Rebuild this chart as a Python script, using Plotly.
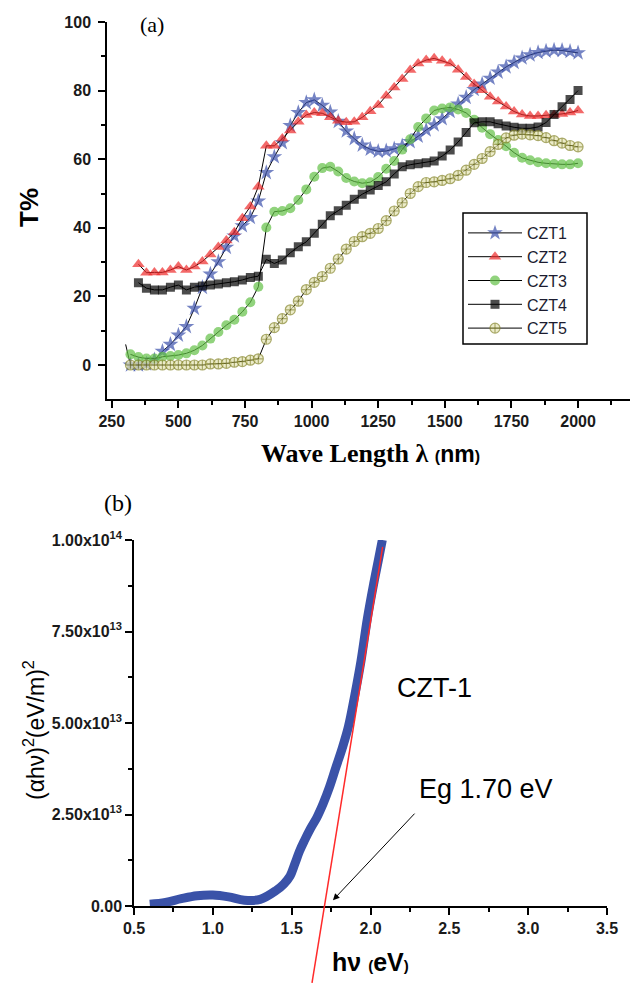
import plotly.graph_objects as go

W, H = 630, 984

# ---------------- Panel (a) data: transmittance vs wavelength ----------------
wl = [320, 350, 380, 410, 440, 470, 500, 530, 560, 590, 620, 650, 680, 710, 740, 770, 800,
      830, 860, 890, 920, 950, 980, 1010, 1040, 1070, 1100, 1130, 1160, 1190, 1220, 1250,
      1280, 1310, 1340, 1370, 1400, 1430, 1460, 1490, 1520, 1550, 1580, 1610, 1640, 1670,
      1700, 1730, 1760, 1790, 1820, 1850, 1880, 1910, 1940, 1970, 2000]

czt1_wl = [302] + wl
czt1 = [6.0, 0.0, 0.0, 0.3, 1.5, 4.0, 6.0, 8.7, 11.2, 16.5, 22.6, 26.5, 30.1, 34.3, 37.6, 40.6,
        43.0, 47.8, 56.1, 60.7, 64.8, 69.8, 73.6, 76.5, 77.3, 75.7, 73.7, 71.0, 68.2, 66.0,
        64.1, 62.9, 62.3, 62.4, 63.0, 63.9, 65.1, 66.7, 68.5, 70.0, 71.8, 73.9, 76.1, 78.0,
        80.3, 81.9, 83.6, 85.4, 86.9, 88.2, 89.5, 90.4, 91.1, 91.5, 91.8, 91.7, 91.4, 91.0]

czt2_wl = wl[1:]
czt2 = [29.4, 26.9, 27.0, 27.0, 27.7, 28.7, 27.7, 28.7, 30.2, 32.2, 34.4, 36.3, 38.7, 42.8,
        46.2, 52.0, 63.9, 63.9, 66.0, 68.4, 70.9, 72.9, 73.6, 73.4, 72.2, 71.2, 70.8, 70.9,
        72.2, 74.0, 75.8, 78.5, 80.9, 83.4, 86.0, 87.9, 88.9, 89.4, 88.7, 87.9, 86.1, 84.0,
        81.9, 80.1, 78.2, 76.8, 75.4, 73.9, 73.0, 72.6, 72.6, 72.8, 72.9, 73.2, 73.6, 74.2]

czt3_wl = wl
czt3 = [3.1, 2.3, 1.9, 1.9, 2.4, 2.6, 2.9, 3.4, 4.3, 5.7, 7.7, 9.6, 11.6, 13.2, 15.5, 18.3,
        22.8, 40.1, 44.7, 44.9, 45.7, 48.1, 51.2, 54.9, 57.4, 57.8, 56.4, 54.5, 53.5, 53.0,
        53.3, 54.8, 57.2, 59.5, 62.8, 65.8, 69.4, 71.9, 74.2, 74.8, 75.1, 74.5, 73.5, 71.5,
        69.2, 67.3, 65.6, 63.8, 61.9, 60.4, 59.7, 59.1, 58.8, 58.6, 58.5, 58.5, 58.8]

czt4_wl = wl[1:]
czt4 = [24.0, 22.4, 21.9, 21.9, 22.7, 23.3, 21.9, 22.7, 23.0, 23.3, 23.6, 24.0, 24.3, 24.8,
        25.5, 25.9, 30.8, 29.6, 30.6, 32.7, 34.5, 35.9, 38.4, 41.0, 43.5, 45.0, 46.6, 48.3,
        49.8, 51.0, 52.3, 53.4, 55.7, 57.8, 58.4, 58.7, 59.0, 59.5, 60.9, 62.7, 65.0, 67.8,
        70.6, 70.9, 70.9, 70.3, 69.7, 69.3, 69.0, 69.0, 69.4, 70.7, 73.0, 75.3, 77.4, 80.0]

czt5_wl = wl
czt5 = [0.0, 0.0, 0.0, 0.0, 0.0, 0.0, 0.0, 0.0, 0.0, 0.0, 0.3, 0.3, 0.5, 0.8, 1.0, 1.4, 1.8,
        7.5, 10.9, 13.5, 16.1, 18.6, 22.0, 24.1, 25.8, 28.2, 30.9, 33.8, 36.0, 37.4, 38.4,
        39.8, 42.1, 44.9, 47.3, 50.0, 52.0, 53.2, 53.4, 53.8, 54.3, 55.3, 56.8, 58.5, 60.2,
        62.2, 64.3, 66.2, 67.0, 67.3, 67.1, 66.9, 66.3, 65.4, 64.7, 64.0, 63.6]

a_xticks = [250, 500, 750, 1000, 1250, 1500, 1750, 2000]
a_yticks = [0, 20, 40, 60, 80, 100]

# ---------------- Panel (b) data: Tauc plot ----------------
hv = [0.60, 0.70, 0.80, 0.90, 1.00, 1.10, 1.20, 1.30, 1.40, 1.45, 1.49, 1.52, 1.55, 1.58,
      1.62, 1.66, 1.70, 1.74, 1.78, 1.82, 1.86, 1.90, 1.94, 1.98, 2.02, 2.05, 2.075]
ahv2 = [0.05e13, 0.10e13, 0.20e13, 0.28e13, 0.30e13, 0.25e13, 0.16e13, 0.18e13, 0.42e13,
        0.60e13, 0.82e13, 1.15e13, 1.50e13, 1.78e13, 2.12e13, 2.42e13, 2.80e13, 3.25e13,
        3.78e13, 4.30e13, 4.90e13, 5.75e13, 6.70e13, 7.85e13, 8.80e13, 9.45e13, 10.0e13]
fit_hv = [1.629, 2.077]
fit_y = [-2.10e13, 9.81e13]
eg_point = (1.762, 0.16e13)

b_xticks = [0.5, 1.0, 1.5, 2.0, 2.5, 3.0, 3.5]
b_yticks = [0, 2.5e13, 5.0e13, 7.5e13, 1.0e14]
b_yticktext = ["0.00", "2.50x10<sup>13</sup>", "5.00x10<sup>13</sup>",
               "7.50x10<sup>13</sup>", "1.00x10<sup>14</sup>"]

# ---------------- figure ----------------
fig = go.Figure()

def px_x(p):
    return p / W

def px_y(p):
    return 1 - p / H

series = [
    ("CZT1", czt1_wl, czt1, "star", "#3a50ab", 12, "#3a50ab", 0),
    ("CZT2", czt2_wl, czt2, "triangle-up", "#ee2a2a", 11, "#ee2a2a", 0),
    ("CZT3", czt3_wl, czt3, "circle", "#62c046", 10, "#62c046", 0),
    ("CZT4", czt4_wl, czt4, "square", "#000000", 9, "#000000", 0),
    ("CZT5", czt5_wl, czt5, "circle-cross", "#e4e4b4", 10, "#86862a", 1.2),
]
for name, xs, ys, sym, col, size, lcol, lw in series:
    sizes = [size] * len(xs)
    if name == "CZT1":
        sizes[0] = 0
    fig.add_trace(go.Scatter(
        x=xs, y=ys, name=name, mode="lines+markers",
        line=dict(color="black", width=1),
        marker=dict(symbol=sym, color=col, size=sizes,
                    line=dict(color=lcol, width=lw)),
        xaxis="x", yaxis="y", showlegend=True))

fig.add_trace(go.Scatter(
    x=hv, y=ahv2, mode="lines", line=dict(color="#3a52a8", width=9, shape="spline"),
    xaxis="x2", yaxis="y2", showlegend=False))
fig.add_trace(go.Scatter(
    x=fit_hv, y=fit_y, mode="lines", line=dict(color="#ff2a2a", width=1.5),
    xaxis="x3", yaxis="y3", showlegend=False))

tickfont = dict(family="Arial, Liberation Sans", size=16, color="#1a1a1a")
axis_common = dict(showline=True, linecolor="black", linewidth=1.5, ticks="outside",
                   ticklen=7, tickwidth=1.5, tickcolor="black", showgrid=False,
                   zeroline=False, tickfont=tickfont, automargin=False)

a_x0, a_x1 = 107, 630
b_x0, b_x1 = 134, 607

fig.update_layout(
    template="none",
    width=W, height=H, margin=dict(l=0, r=0, t=0, b=0, pad=0),
    paper_bgcolor="white", plot_bgcolor="rgba(0,0,0,0)",
    xaxis=dict(domain=[px_x(a_x0), px_x(a_x1)], range=[232, 2195], anchor="y",
               tickvals=a_xticks, ticktext=[f"<b>{v}</b>" for v in a_xticks],
               minor=dict(tickvals=[375, 625, 875, 1125, 1375, 1625, 1875, 2125],
                          ticks="outside", ticklen=4, tickwidth=1.5, tickcolor="black",
                          showgrid=False),
               **axis_common),
    yaxis=dict(domain=[px_y(399.3), px_y(22)], range=[-10, 100], anchor="x",
               tickvals=a_yticks, ticktext=[f"<b>{v}</b>" for v in a_yticks],
               minor=dict(tickvals=[10, 30, 50, 70, 90],
                          ticks="outside", ticklen=4, tickwidth=1.5, tickcolor="black",
                          showgrid=False),
               ticklabelstandoff=4, **axis_common),
    xaxis2=dict(domain=[px_x(b_x0), px_x(b_x1)], range=[0.5, 3.5], anchor="y2",
                tickvals=b_xticks, ticktext=[f"<b>{v:.1f}</b>" for v in b_xticks],
                minor=dict(tickvals=[0.75, 1.25, 1.75, 2.25, 2.75, 3.25],
                           ticks="outside", ticklen=4, tickwidth=1.5, tickcolor="black",
                           showgrid=False),
                **axis_common),
    yaxis2=dict(domain=[px_y(906), px_y(540)], range=[0, 1e14], anchor="x2",
                tickvals=b_yticks, ticktext=[f"<b>{t}</b>" for t in b_yticktext],
                minor=dict(tickvals=[1.25e13, 3.75e13, 6.25e13, 8.75e13],
                           ticks="outside", ticklen=4, tickwidth=1.5, tickcolor="black",
                           showgrid=False),
                **axis_common),
    xaxis3=dict(domain=[px_x(b_x0), px_x(b_x1)], range=[0.5, 3.5], anchor="y3",
                visible=False, automargin=False),
    yaxis3=dict(domain=[0, px_y(540)], range=[-(984 - 906) / 366 * 1e14, 1e14],
                anchor="x3", visible=False, automargin=False),
    legend=dict(x=px_x(463), y=px_y(216), xanchor="left", yanchor="top",
                borderwidth=0, bgcolor="rgba(0,0,0,0)",
                font=dict(family="Arial, Liberation Sans", size=16, color="#1c1c30"),
                itemwidth=54, tracegroupgap=0),
    shapes=[dict(type="rect", xref="paper", yref="paper",
                 x0=px_x(463), x1=px_x(587), y0=px_y(344), y1=px_y(213),
                 line=dict(color="black", width=1.5), fillcolor="rgba(0,0,0,0)",
                 layer="below")],
)

def note(text, xp, yp, size, family="Arial, Liberation Sans", angle=0):
    return dict(text=text, x=px_x(xp), y=px_y(yp), xref="paper", yref="paper",
                xanchor="center", yanchor="middle", showarrow=False, textangle=angle,
                font=dict(family=family, size=size, color="black"))

ann = [
    note("(a)", 152, 25, 22, family="Liberation Serif"),
    note("<b>T%</b>", 29, 208, 26, angle=-90),
    note("<b>Wave Length λ <span style='font-family:Arial;font-size:16px'>(</span>"
         "<span style='font-family:Arial;font-size:23px'>nm</span>"
         "<span style='font-family:Arial;font-size:16px'>)</span></b>",
         370, 453, 26, family="Liberation Serif"),
    note("(b)", 118, 503, 24, family="Liberation Serif"),
    note("(αhν)<sup>2</sup>(eV/m)<sup>2</sup>", 34, 730, 23, angle=-90),
    note("<b>hν <span style='font-size:15px'>(</span>eV<span style='font-size:15px'>)</span></b>",
         370, 962, 25),
    note("CZT-1", 434, 688, 27),
    note("Eg 1.70 eV", 486, 789, 27),
    dict(text="", x=eg_point[0], y=eg_point[1], xref="x2", yref="y2",
         showarrow=True, ax=83, ay=-88, arrowhead=2, arrowsize=1.3, arrowwidth=1,
         arrowcolor="black"),
]
fig.update_layout(annotations=ann)

fig.write_html("out.html", config={"displayModeBar": False},
               post_script="document.body.style.margin='0';"
                           "document.body.style.overflow='hidden';")
